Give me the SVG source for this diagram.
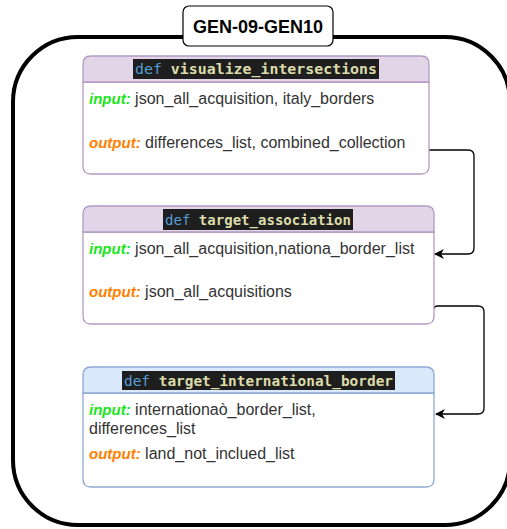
<svg xmlns="http://www.w3.org/2000/svg" width="507" height="529" viewBox="0 0 507 529">
  <defs>
    <marker id="arrow" viewBox="0 0 10 10" refX="9" refY="5" markerWidth="10" markerHeight="10" markerUnits="userSpaceOnUse" orient="auto">
      <path d="M0,0 L10,5 L0,10 L3,5 Z" fill="#000"/>
    </marker>
  </defs>
  <style>
    .frame { fill: #fff; stroke: #000; stroke-width: 4; }
    .title-box { fill: #fff; stroke: #000; stroke-width: 1.2; }
    .title { font-family: "Liberation Sans", Arial, sans-serif; font-weight: bold; font-size: 18px; fill: #000; }
    .purple-head { fill: #e1d5e7; stroke: #b39bc4; stroke-width: 1.3; }
    .blue-head { fill: #dae8fc; stroke: #8ea9d3; stroke-width: 1.3; }
    .purple-body { fill: #fff; stroke: #b39bc4; stroke-width: 1.3; }
    .blue-body { fill: #fff; stroke: #8ea9d3; stroke-width: 1.3; }
    .code-bg { fill: #1e1e1e; }
    .code { font-family: "DejaVu Sans Mono", "Liberation Mono", monospace; font-weight: bold; font-size: 14.5px; fill: #dcdcaa; }
    .kw { fill: #569cd6; font-weight: normal; }
    .body { font-family: "Liberation Sans", Arial, sans-serif; font-size: 16px; fill: #333; }
    .in { font-weight: bold; font-style: italic; font-size: 15px; fill: #19e619; }
    .out { font-weight: bold; font-style: italic; font-size: 15px; fill: #ff8000; }
    .wire { fill: none; stroke: #000; stroke-width: 1.3; }
  </style>

  <!-- outer container -->
  <g id="container">
    <rect class="frame" x="13" y="37" width="497" height="488" rx="65" ry="65"/>
    <rect class="title-box" x="183" y="6" width="150" height="40" rx="6" ry="6"/>
    <text class="title" x="258" y="32.5" text-anchor="middle">GEN-09-GEN10</text>
  </g>

  <!-- connectors -->
  <g id="connectors">
    <path class="wire" d="M429,150 H468 Q474,150 474,156 V248 Q474,254 468,254 H435" marker-end="url(#arrow)"/>
    <path class="wire" d="M434,309 Q434,306 438,306 H478 Q484,306 484,312 V408 Q484,414 478,414 H436" marker-end="url(#arrow)"/>
  </g>

  <!-- node: visualize_intersections -->
  <g id="visualize_intersections">
    <path class="purple-body" d="M83,82 H429 V166 Q429,174 421,174 H91 Q83,174 83,166 Z"/>
    <path class="purple-head" d="M83,82 V64 Q83,56 91,56 H421 Q429,56 429,64 V82 Z"/>
    <rect class="code-bg" x="133" y="59" width="246" height="20"/>
    <text class="code" x="135" y="74" textLength="242" lengthAdjust="spacingAndGlyphs"><tspan class="kw">def</tspan> visualize_intersections</text>
    <text class="body" x="89" y="104"><tspan class="in">input:</tspan> json_all_acquisition, italy_borders</text>
    <text class="body" x="89" y="148"><tspan class="out">output:</tspan> differences_list, combined_collection</text>
  </g>

  <!-- node: target_association -->
  <g id="target_association">
    <path class="purple-body" d="M83,232 H434 V316 Q434,324 426,324 H91 Q83,324 83,316 Z"/>
    <path class="purple-head" d="M83,232 V214 Q83,206 91,206 H426 Q434,206 434,214 V232 Z"/>
    <rect class="code-bg" x="163" y="209" width="190" height="21"/>
    <text class="code" x="165" y="224.5" textLength="186" lengthAdjust="spacingAndGlyphs"><tspan class="kw">def</tspan> target_association</text>
    <text class="body" x="89" y="254"><tspan class="in">input:</tspan> json_all_acquisition,nationa_border_list</text>
    <text class="body" x="89" y="297"><tspan class="out">output:</tspan> json_all_acquisitions</text>
  </g>

  <!-- node: target_international_border -->
  <g id="target_international_border">
    <path class="blue-body" d="M83,393 H434 V479 Q434,487 426,487 H91 Q83,487 83,479 Z"/>
    <path class="blue-head" d="M83,393 V375 Q83,367 91,367 H426 Q434,367 434,375 V393 Z"/>
    <rect class="code-bg" x="122" y="371" width="273" height="19"/>
    <text class="code" x="124" y="385.5" textLength="269" lengthAdjust="spacingAndGlyphs"><tspan class="kw">def</tspan> target_international_border</text>
    <text class="body" x="89" y="415"><tspan class="in">input:</tspan> internationaò_border_list,</text>
    <text class="body" x="89" y="434">differences_list</text>
    <text class="body" x="89" y="459"><tspan class="out">output:</tspan> land_not_inclued_list</text>
  </g>
</svg>
